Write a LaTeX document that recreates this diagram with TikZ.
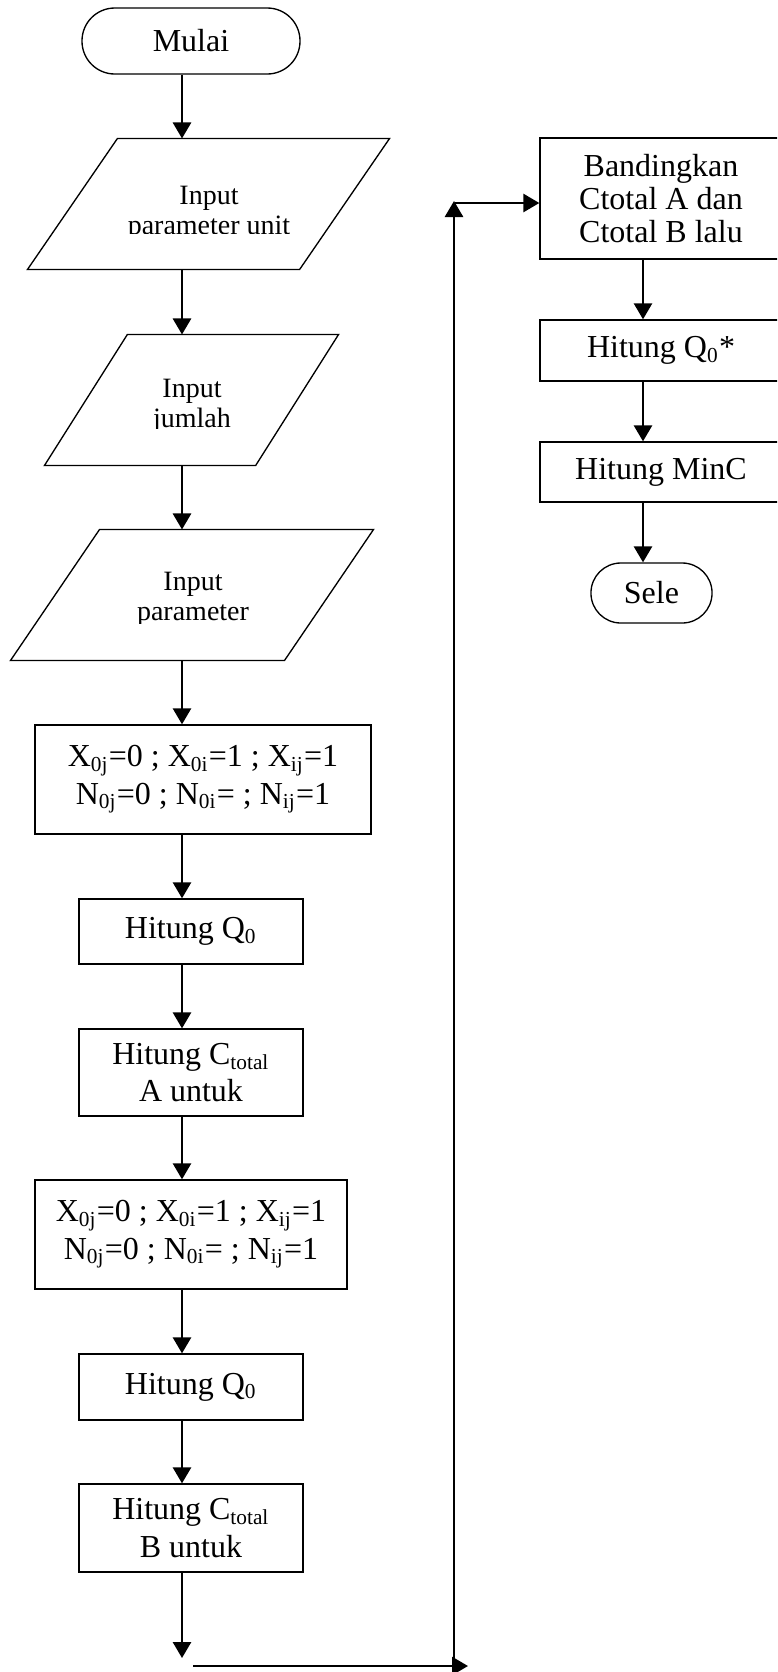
\documentclass[tikz,border=0pt]{standalone}
\usepackage{fontspec}
\setmainfont{Liberation Serif}
\usetikzlibrary{arrows.meta}

\begin{document}
\begin{tikzpicture}[x=0.375pt,y=-0.375pt,
	box/.style={draw,line width=0.5pt,align=center,inner sep=0pt,font=\fontsize{12}{14}\selectfont},
	term/.style={box,rounded corners=12.3pt},
	io/.style={inner sep=0pt,minimum height=48.75pt},
	intext/.style={align=center,inner sep=0pt,font=\fontsize{10.5}{11.25}\selectfont},
	arr/.style={line width=0.9pt,-{Triangle[width=6.8pt,length=6pt]}}]

	\useasboundingbox (0,0) rectangle (777,1672);
	\clip (0,0) rectangle (777,1672);

	\coordinate (spine) at (182,0);
	\coordinate (spineR) at (643,0);

	% kolom kiri
	\node[term,minimum width=81.75pt,minimum height=24.75pt] (mulai) at (191,41) {Mulai};

	\node[io,minimum width=135.4pt] (in1) at (208.5,204) {};
	\node[io,minimum width=109.9pt] (in2) at (191.5,400) {};
	\node[io,minimum width=135.75pt] (in3) at (192,595) {};
	\foreach \n/\s in {in1/33.75pt,in2/31.1pt,in3/33.4pt}
		\draw[line width=0.5pt] ([xshift=\s]\n.north west) -- (\n.north east) -- ([xshift=-\s]\n.south east) -- (\n.south west) -- cycle;

	\begin{scope}
		\clip (0,0) rectangle (777,233);
		\node[intext] (in1txt) at (209,213) {Input\\parameter unit};
	\end{scope}
	\begin{scope}
		\clip (0,300) rectangle (777,428);
		\node[intext] (in2txt) at (192,406) {Input\\jumlah};
	\end{scope}
	\begin{scope}
		\clip (0,500) rectangle (777,623);
		\node[intext] (in3txt) at (193,599) {Input\\parameter};
	\end{scope}

	\node[box,minimum width=126pt,minimum height=40.9pt] (initA) at (203,779.5)
		{X\textsubscript{0j}=0 ; X\textsubscript{0i}=1 ; X\textsubscript{ij}=1\\N\textsubscript{0j}=0 ; N\textsubscript{0i}= ; N\textsubscript{ij}=1};
	\node[box,minimum width=84pt,minimum height=24.4pt] (qA) at (191,931.5) {Hitung Q\textsubscript{0}};
	\node[box,minimum width=84pt,minimum height=32.6pt] (cA) at (191,1072.5) {Hitung C\textsubscript{total}\\A untuk};

	\node[box,minimum width=117pt,minimum height=40.9pt] (initB) at (191,1234.5)
		{X\textsubscript{0j}=0 ; X\textsubscript{0i}=1 ; X\textsubscript{ij}=1\\N\textsubscript{0j}=0 ; N\textsubscript{0i}= ; N\textsubscript{ij}=1};
	\node[box,minimum width=84pt,minimum height=24.75pt] (qB) at (191,1387) {Hitung Q\textsubscript{0}};
	\node[box,minimum width=84pt,minimum height=33pt] (cB) at (191,1528) {Hitung C\textsubscript{total}\\B untuk};

	\foreach \a/\b in {mulai/in1,in1/in2,in2/in3,in3/initA,initA/qA,qA/cA,cA/initB,initB/qB,qB/cB}
		\draw[arr] (\a.south -| spine) -- (\b.north -| spine);

	% kolom kanan
	\node[box,minimum width=90.75pt,minimum height=45.4pt,font=\fontsize{12}{12.5}\selectfont] (banding) at (661,198.5)
		{Bandingkan\\Ctotal A dan\\Ctotal B lalu};
	\node[box,minimum width=90.75pt,minimum height=22.9pt] (qstar) at (661,350.5) {Hitung Q\textsubscript{0}*};
	\node[box,minimum width=90.75pt,minimum height=22.5pt] (minc) at (661,472) {Hitung MinC};
	\node[term,minimum width=45.4pt,minimum height=22.5pt,rounded corners=11.2pt] (sele) at (651.5,593) {Sele};

	\foreach \a/\b in {banding/qstar,qstar/minc,minc/sele}
		\draw[arr] (\a.south -| spineR) -- (\b.north -| spineR);

	% jalur balik
	\coordinate (endA) at (182,1658);
	\coordinate (loopA) at (193,1666);
	\coordinate (loopB) at (468,1666);
	\coordinate (loopC) at (454,1666);
	\coordinate (loopD) at (454,201);
	\coordinate (loopE) at (455,203);

	\draw[arr] (cB.south -| spine) -- (endA);
	\draw[arr] (loopA) -- (loopB);
	\draw[arr] (loopC) -- (loopD);
	\draw[arr] (loopE) -- (loopE -| banding.west);

\end{tikzpicture}
\end{document}
